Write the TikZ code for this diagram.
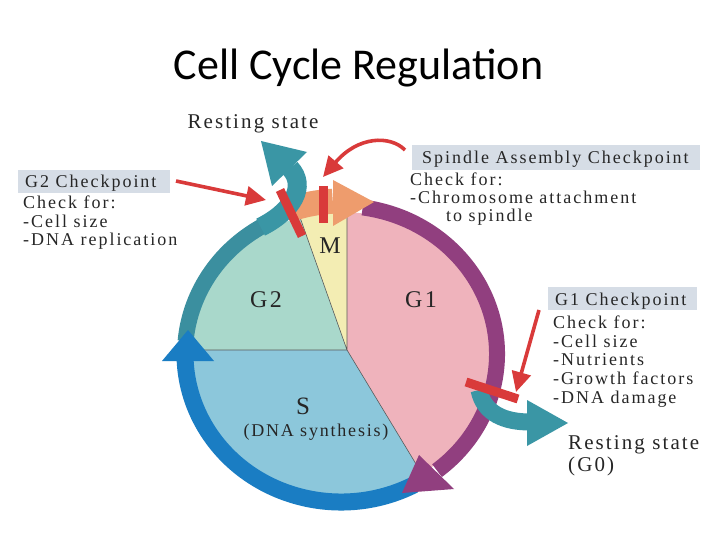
\documentclass[tikz,border=0pt]{standalone}
\usepackage{fontspec}
\setmainfont{Liberation Serif}
\newfontfamily\titlefont{Carlito}
\newfontfamily\labfont[LetterSpace=11]{Liberation Serif}
\newfontfamily\restfont[LetterSpace=10]{Liberation Serif}
\usetikzlibrary{calc,arrows.meta}
\definecolor{gonec}{HTML}{EFB3BC}
\definecolor{mc}{HTML}{F3EDB3}
\definecolor{gtwoc}{HTML}{A9D8CB}
\definecolor{sc}{HTML}{8CC7DB}
\definecolor{purp}{HTML}{913F7F}
\definecolor{tealr}{HTML}{3B8F9F}
\definecolor{tealA}{HTML}{3A96A5}
\definecolor{bluer}{HTML}{1A7DC3}
\definecolor{orng}{HTML}{EE9C6D}
\definecolor{redc}{HTML}{D93A3A}
\definecolor{boxc}{HTML}{D6DDE6}
\definecolor{txtc}{HTML}{262626}
\begin{document}
\begin{tikzpicture}[x=1pt,y=-1pt,
  lab/.style={inner sep=0pt, anchor=base west, text=txtc, font=\labfont\fontsize{18pt}{20pt}\selectfont},
  rest/.style={inner sep=0pt, text=txtc, font=\restfont\fontsize{21pt}{24pt}\selectfont},
  phase/.style={inner sep=0pt, text=txtc, font=\restfont\fontsize{24pt}{26pt}\selectfont},
  divider/.style={draw=black!65, line width=0.6pt},
  ring/.style={line width=16pt},
  redarrow/.style={draw=redc, line width=3.6pt, -{Triangle[length=20pt,width=19pt]}},
  redbar/.style={draw=redc, line width=9pt},
  boxfill/.style={fill=boxc}]
\useasboundingbox (0,0) rectangle (720,540);
\fill[white] (0,0) rectangle (720,540);
\coordinate (C) at (341,354);
\coordinate (J) at (347,350);
% pie
\begin{scope}
\clip (C) ellipse [x radius=150pt, y radius=142pt];
\fill[gonec] (J) -- (347,0) -- (720,0) -- (720,540) -- (462,540) -- cycle;
\fill[mc] (J) -- (223,0) -- (347,0) -- cycle;
\fill[gtwoc] (J) -- (0,350) -- (0,0) -- (223,0) -- cycle;
\fill[sc] (J) -- (462,540) -- (0,540) -- (0,350) -- cycle;
\draw[divider] (J) -- (347,0) (J) -- (223,0) (J) -- (0,350) (J) -- (462,540);
\end{scope}
% purple ring with head
\draw[ring, draw=purp] ($(C)+(82:156pt and 148pt)$) arc[start angle=82, end angle=-52, x radius=156pt, y radius=148pt];
% blue ring
\draw[ring, draw=bluer, line width=17pt] ($(C)+(-62:156pt and 148pt)$) arc[start angle=-62, end angle=-182, x radius=156pt, y radius=148pt];
\fill[purp] (419,455) -- (402,493) -- (454,489) -- cycle;
% orange arrow
\draw[draw=orng, line width=25pt] ($(C)+(110:157pt and 153pt)$) arc[start angle=110, end angle=93, x radius=157pt, y radius=153pt];
\fill[orng] (333,180) -- (374,202) -- (333,226) -- cycle;
% teal ring and curl to resting state
\draw[ring, draw=tealr] ($(C)+(175:156pt and 148pt)$) arc[start angle=175, end angle=118, x radius=156pt, y radius=148pt];
\draw[draw=tealA, line width=19pt] ($(C)+(121:156pt and 148pt)$) .. controls (293,211) and (307,186) .. (290,168);
\fill[tealA] (307,152) -- (261,141) -- (272,186) -- cycle;
% blue head
\fill[bluer] (162,361) -- (188,330) -- (214,361) -- cycle;
% G0 arrow
\draw[draw=tealA, line width=17pt] (479,390) .. controls (484,414) and (505,422) .. (530,422);
\fill[tealA] (527,400) -- (568,423) -- (527,446) -- cycle;
% checkpoint bars
\draw[redbar] (280,190) -- (302,236);
\draw[redbar] (323,186) -- (323,223);
\draw[redbar] (466,382) -- (518,399);
% boxes
\fill[boxfill] (18,170) rectangle (170,193);
\fill[boxfill] (412,145) rectangle (700,170);
\fill[boxfill] (548,287) rectangle (697,310);
% title
\node[inner sep=0pt, anchor=base, font=\titlefont\fontsize{44pt}{48pt}\selectfont] (title) at (358.5,80) {Cell Cycle Regulation};
% text: G2 checkpoint
\node[lab] (g2h) at (25,188) {G2 Checkpoint};
\node[lab] (g2a) at (23,208) {Check for:};
\node[lab] (g2b) at (23,227) {-Cell size};
\node[lab] (g2c) at (23,245) {-DNA replication};
% spindle
\node[lab] (sph) at (422,164) {Spindle Assembly Checkpoint};
\node[lab] (spa) at (410,186) {Check for:};
\node[lab] (spb) at (410,204) {-Chromosome attachment};
\node[lab] (spc) at (446,222) {to spindle};
% G1
\node[lab] (g1h) at (555,305) {G1 Checkpoint};
\node[lab] (g1a) at (553,328) {Check for:};
\node[lab] (g1b) at (553,347) {-Cell size};
\node[lab] (g1c) at (553,365) {-Nutrients};
\node[lab] (g1d) at (553,384) {-Growth factors};
\node[lab] (g1e) at (553,403) {-DNA damage};
% resting states
\node[rest, anchor=base] (rest1) at (253,129) {Resting state};
\node[rest, anchor=base west] (rest2) at (568,449) {Resting state};
\node[rest, anchor=base west] (rest3) at (568,471) {(G0)};
% phases
\node[phase] (m) at (330,246) {M};
\node[phase] (g2) at (266,300) {G2};
\node[phase] (g1) at (421,300) {G1};
\node[phase, font=\restfont\fontsize{25pt}{28pt}\selectfont] (s) at (303,406) {S};
\node[phase, font=\restfont\fontsize{18pt}{20pt}\selectfont] (dna) at (316,432) {(DNA synthesis)};
% red arrows
\coordinate (a1s) at (176,181);
\coordinate (a1e) at (266,200);
\coordinate (a2s) at (405,150);
\coordinate (a2e) at (323,177);
\coordinate (a3s) at (539,310);
\coordinate (a3e) at (516,392);
\draw[redarrow] (a1s) -- (a1e);
\draw[redarrow] (a2s) .. controls (390,135) and (358,136) .. (a2e);
\draw[redarrow] (a3s) -- (a3e);
\end{tikzpicture}
\end{document}
